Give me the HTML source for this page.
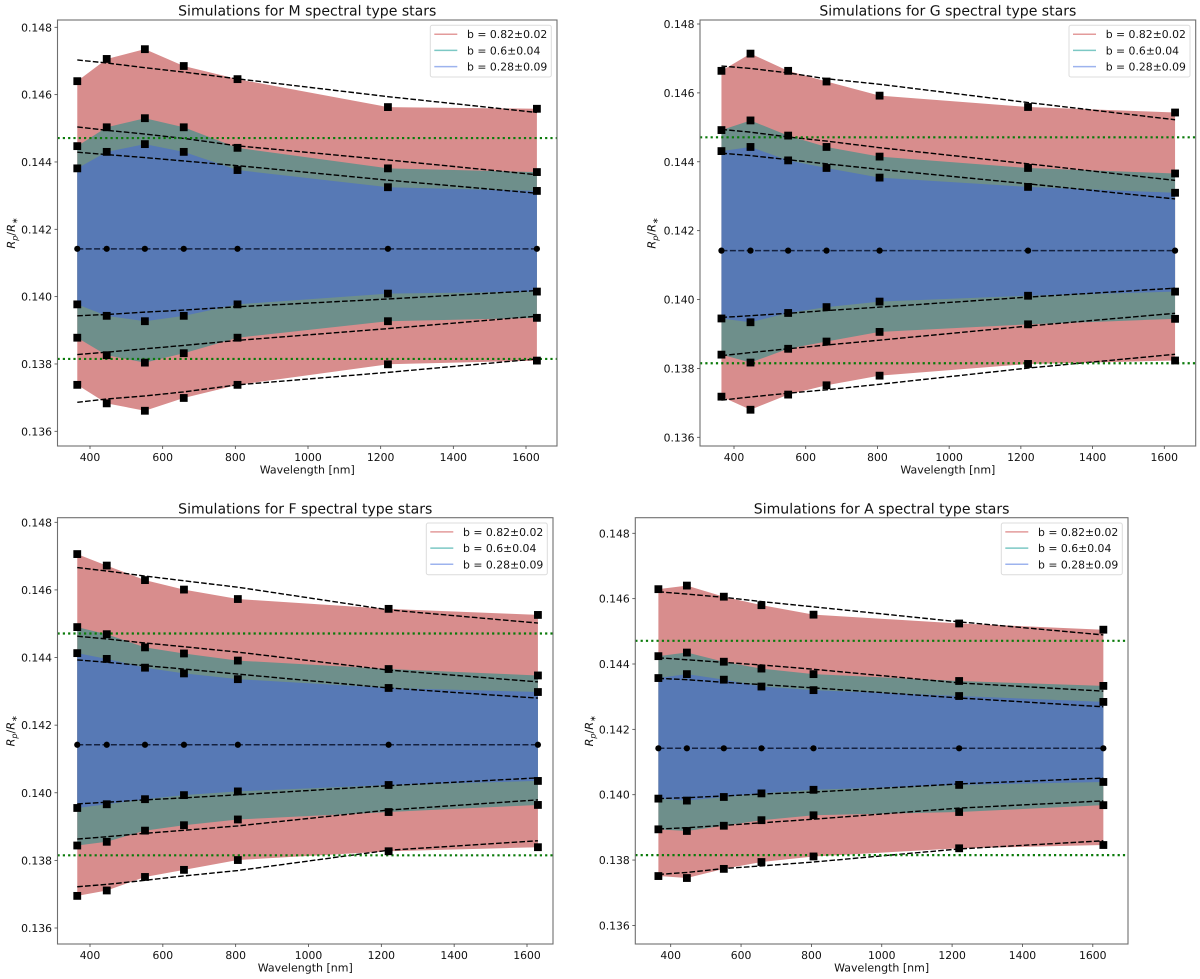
<!DOCTYPE html>
<html lang="en">
<head>
<meta charset="utf-8">
<title>Simulations for spectral type stars</title>
<style>
html,body{margin:0;padding:0;background:#fff;}
svg{display:block;filter:blur(0.3px);}
text{font-family:"DejaVu Sans","Liberation Sans",sans-serif;fill:#111;text-rendering:geometricPrecision;}
</style>
</head>
<body>
<svg id="figure" xmlns="http://www.w3.org/2000/svg" width="1200" height="979" viewBox="0 0 1200 979"></svg>
<script>
// ---- shared data ----
const wavelengths = [365, 446, 551, 658, 806, 1220, 1630];
const xTicks = [400, 600, 800, 1000, 1200, 1400, 1600];
const yTicks = [0.136, 0.138, 0.140, 0.142, 0.144, 0.146, 0.148];
const legendLabels = ['b = 0.82±0.02', 'b = 0.6±0.04', 'b = 0.28±0.09'];
const centreValue = 0.14142;
const upperLimit = 0.14471;
const lowerLimit = 0.13815;

// ---- M stars ----
const mUpper82 = [.14640,.14706,.14735,.14685,.14646,.14563,.14558];
const mUpper60 = [.14447,.14503,.14530,.14503,.14442,.14381,.14370];
const mUpper28 = [.14381,.14430,.14453,.14430,.14376,.14325,.14314];
const mLower28 = [.13977,.13943,.13927,.13943,.13977,.14009,.14015];
const mLower60 = [.13878,.13826,.13804,.13832,.13878,.13927,.13937];
const mLower82 = [.13738,.13683,.13661,.13699,.13738,.13799,.13810];
const mFitUpper82 = [.14703,.14694,.14680,.14667,.14647,.14594,.14547];
const mFitUpper60 = [.14504,.14494,.14483,.14470,.14448,.14406,.14362];
const mFitUpper28 = [.14429,.14422,.14413,.14403,.14389,.14346,.14307];
const mFitLower28 = [.13943,.13947,.13954,.13960,.13970,.13993,.14018];
const mFitLower60 = [.13828,.13835,.13845,.13855,.13870,.13905,.13942];
const mFitLower82 = [.13686,.13696,.13705,.13717,.13738,.13775,.13815];

// ---- G stars ----
const gUpper82 = [.14664,.14714,.14664,.14633,.14592,.14559,.14543];
const gUpper60 = [.14492,.14520,.14476,.14443,.14415,.14382,.14366];
const gUpper28 = [.14431,.14443,.14404,.14382,.14354,.14327,.14310];
const gLower28 = [.13945,.13934,.13961,.13978,.13994,.14011,.14023];
const gLower60 = [.13840,.13817,.13857,.13878,.13906,.13928,.13944];
const gLower82 = [.13718,.13680,.13724,.13751,.13779,.13813,.13823];
const gFitUpper82 = [.14678,.14671,.14658,.14641,.14625,.14572,.14522];
const gFitUpper60 = [.14494,.14486,.14472,.14460,.14441,.14394,.14346];
const gFitUpper28 = [.14425,.14418,.14406,.14394,.14378,.14336,.14292];
const gFitLower28 = [.13948,.13953,.13960,.13968,.13978,.14007,.14033];
const gFitLower60 = [.13837,.13846,.13857,.13868,.13882,.13923,.13960];
const gFitLower82 = [.13708,.13717,.13728,.13738,.13754,.13801,.13841];

// ---- F stars ----
const fUpper82 = [.14706,.14672,.14629,.14601,.14573,.14544,.14526];
const fUpper60 = [.14490,.14469,.14430,.14412,.14391,.14366,.14347];
const fUpper28 = [.14413,.14396,.14370,.14353,.14336,.14310,.14298];
const fLower28 = [.13955,.13966,.13981,.13993,.14004,.14023,.14035];
const fLower60 = [.13844,.13855,.13888,.13904,.13921,.13943,.13964];
const fLower82 = [.13695,.13711,.13751,.13772,.13801,.13827,.13839];
const fFitUpper82 = [.14666,.14656,.14641,.14627,.14608,.14541,.14502];
const fFitUpper60 = [.14463,.14455,.14443,.14432,.14416,.14363,.14328];
const fFitUpper28 = [.14393,.14386,.14376,.14366,.14351,.14310,.14280];
const fFitLower28 = [.13967,.13972,.13979,.13985,.13994,.14021,.14044];
const fFitLower60 = [.13863,.13870,.13880,.13889,.13902,.13949,.13979];
const fFitLower82 = [.13722,.13729,.13741,.13754,.13770,.13830,.13858];

// ---- A stars ----
const aUpper82 = [.14629,.14640,.14606,.14580,.14551,.14524,.14505];
const aUpper60 = [.14424,.14435,.14407,.14386,.14369,.14348,.14333];
const aUpper28 = [.14357,.14369,.14352,.14331,.14320,.14302,.14284];
const aLower28 = [.13988,.13982,.13993,.14004,.14015,.14030,.14039];
const aLower60 = [.13894,.13889,.13905,.13922,.13937,.13947,.13968];
const aLower82 = [.13751,.13745,.13773,.13794,.13811,.13836,.13846];
const aFitUpper82 = [.14621,.14614,.14604,.14591,.14575,.14529,.14489];
const aFitUpper60 = [.14419,.14413,.14405,.14397,.14384,.14342,.14317];
const aFitUpper28 = [.14356,.14352,.14344,.14337,.14327,.14296,.14269];
const aFitLower28 = [.13988,.13991,.13996,.14002,.14008,.14033,.14051];
const aFitLower60 = [.13895,.13899,.13906,.13914,.13925,.13959,.13981];
const aFitLower82 = [.13756,.13762,.13774,.13782,.13794,.13834,.13859];

const svg = document.getElementById('figure');
const NS = 'http://www.w3.org/2000/svg';

function add(parent, tag, name, attrs, text) {
  const el = document.createElementNS(NS, tag);
  
  
  for (const k in attrs) el.setAttribute(k, attrs[k]);
  if (text !== undefined) el.textContent = text;
  parent.appendChild(el);
  return el;
}

function linePath(xs, ys) {
  return xs.map((x, i) => (i ? 'L' : 'M') + x.toFixed(2) + ' ' + ys[i].toFixed(2)).join('');
}

function bandPath(xs, upper, lower) {
  const up = xs.map((x, i) => x.toFixed(2) + ' ' + upper[i].toFixed(2));
  const lo = xs.map((x, i) => x.toFixed(2) + ' ' + lower[i].toFixed(2)).reverse();
  return 'M' + up.join('L') + 'L' + lo.join('L') + 'Z';
}

function drawPanel(p) {
  const g = add(svg, 'g', 'panel-' + p.key, {});
  const xAxis = v => p.x400 + (v - 400) * (p.x1600 - p.x400) / 1200;
  const yAxis = v => p.y148 + (0.148 - v) * (p.y136 - p.y148) / 0.012;
  const xs = wavelengths.map(xAxis);
  const toY = arr => arr.map(yAxis);

  // filled bands
  add(g, 'path', 'band-b-0.82', {d: bandPath(xs, toY(p.up82), toY(p.lo82)), fill: '#d88d8d'});
  add(g, 'path', 'band-b-0.6', {d: bandPath(xs, toY(p.up60), toY(p.lo60)), fill: '#6e8f8b'});
  add(g, 'path', 'band-b-0.28', {d: bandPath(xs, toY(p.up28), toY(p.lo28)), fill: '#5779b5'});

  // fit lines
  [p.fitUp82, p.fitUp60, p.fitUp28, p.fitLo28, p.fitLo60, p.fitLo82].forEach(function (fit, i) {
    add(g, 'path', 'fit-line-' + i, {d: linePath(xs, toY(fit)), fill: 'none', stroke: '#000', 'stroke-width': 1.4, 'stroke-dasharray': '5.6 2.2'});
  });
  const cy = yAxis(centreValue);
  add(g, 'line', 'centre-line', {x1: xs[0], x2: xs[xs.length - 1], y1: cy, y2: cy, stroke: '#14213f', 'stroke-width': 1.5, 'stroke-dasharray': '6 2.4'});

  // limit lines
  [upperLimit, lowerLimit].forEach(function (v, i) {
    const y = yAxis(v);
    add(g, 'line', i ? 'lower-limit-line' : 'upper-limit-line', {x1: p.left, x2: p.right, y1: y, y2: y, stroke: '#0a7a0a', 'stroke-width': 2.2, 'stroke-dasharray': '2.2 3.1'});
  });

  // markers
  [p.up82, p.up60, p.up28, p.lo28, p.lo60, p.lo82].forEach(function (series, s) {
    series.forEach(function (v, i) {
      add(g, 'rect', 'marker-s' + s + '-' + wavelengths[i], {x: xs[i] - 3.9, y: yAxis(v) - 3.9, width: 7.8, height: 7.8, fill: '#000'});
    });
  });
  xs.forEach(function (x, i) {
    add(g, 'circle', 'centre-marker-' + wavelengths[i], {cx: x, cy: cy, r: 3.1, fill: '#000'});
  });

  // axes frame
  add(g, 'rect', 'axes-frame', {x: p.left, y: p.top, width: p.right - p.left, height: p.bottom - p.top, fill: 'none', stroke: '#6f6f6f', 'stroke-width': 1.1});

  // ticks
  xTicks.forEach(function (t) {
    const x = xAxis(t);
    add(g, 'line', 'x-tick-' + t, {x1: x, x2: x, y1: p.bottom, y2: p.bottom + 3, stroke: '#444', 'stroke-width': 0.8});
    add(g, 'text', 'x-tick-label-' + t, {x: x, y: p.bottom + 15, 'text-anchor': 'middle', 'font-size': 10.8}, String(t));
  });
  yTicks.forEach(function (t) {
    const y = yAxis(t);
    add(g, 'line', 'y-tick-' + t, {x1: p.left - 3, x2: p.left, y1: y, y2: y, stroke: '#444', 'stroke-width': 0.8});
    add(g, 'text', 'y-tick-label-' + t, {x: p.left - 5.5, y: y + 4, 'text-anchor': 'end', 'font-size': 10.8}, t.toFixed(3));
  });

  // title and axis labels
  const cx = (p.left + p.right) / 2;
  add(g, 'text', 'panel-title', {x: cx, y: p.top - 4.4, 'text-anchor': 'middle', 'font-size': 14.05}, p.title);
  add(g, 'text', 'x-axis-title', {x: cx, y: p.bottom + 27.5, 'text-anchor': 'middle', 'font-size': 11}, 'Wavelength [nm]');
  const midY = (p.top + p.bottom) / 2;
  const yt = add(g, 'text', 'y-axis-title', {x: 0, y: 0, 'text-anchor': 'middle', 'font-size': 11.2, transform: 'translate(' + p.yLabelX + ' ' + midY + ') rotate(-90)'});
  const parts = [['R', 'italic', 0, 11.2], ['p', 'italic', 2.5, 8], ['/', 'normal', -2.5, 11.2], ['R', 'italic', 0, 11.2], ['∗', 'normal', 2.5, 8]];
  parts.forEach(function (part) {
    const ts = add(yt, 'tspan', 'y-axis-title-part', {'font-style': part[1], dy: part[2], 'font-size': part[3]}, part[0]);
    ts.setAttribute('data-part', part[0]);
  });

  // legend
  const lx = p.right - 126.7 + (p.legendShift || 0);
  const ly = p.top + 5.3;
  const legend = add(g, 'g', 'legend', {});
  add(legend, 'rect', 'legend-frame', {x: lx, y: ly, width: 121, height: 51.7, rx: 2, fill: '#fff', 'fill-opacity': 0.85, stroke: '#dcdcdc', 'stroke-width': 1});
  const legendColors = ['#e39b9b', '#7cc8c4', '#9db3ee'];
  legendLabels.forEach(function (label, i) {
    const y = ly + 8.9 + i * 16.2;
    const entry = add(legend, 'g', 'legend-entry-' + i, {});
    add(entry, 'line', 'legend-handle-' + i, {x1: lx + 4, x2: lx + 27, y1: y, y2: y, stroke: legendColors[i], 'stroke-width': 1.5});
    add(entry, 'text', 'legend-label-' + i, {x: lx + 36.7, y: y + 4, 'font-size': 10.85}, label);
  });
}

const panelM = {key: 'm-stars', title: 'Simulations for M spectral type stars',
  left: 57.5, right: 557, top: 20, bottom: 446, x400: 90, x1600: 526, y148: 27.3, y136: 431.3, yLabelX: 15,
  up82: mUpper82, up60: mUpper60, up28: mUpper28, lo28: mLower28, lo60: mLower60, lo82: mLower82,
  fitUp82: mFitUpper82, fitUp60: mFitUpper60, fitUp28: mFitUpper28, fitLo28: mFitLower28, fitLo60: mFitLower60, fitLo82: mFitLower82};
const panelG = {key: 'g-stars', title: 'Simulations for G spectral type stars',
  left: 700, right: 1195.7, top: 20, bottom: 446, x400: 734, x1600: 1164.3, y148: 24, y136: 437.3, yLabelX: 655.5,
  up82: gUpper82, up60: gUpper60, up28: gUpper28, lo28: gLower28, lo60: gLower60, lo82: gLower82,
  fitUp82: gFitUpper82, fitUp60: gFitUpper60, fitUp28: gFitUpper28, fitLo28: gFitLower28, fitLo60: gFitLower60, fitLo82: gFitLower82};
const panelF = {key: 'f-stars', title: 'Simulations for F spectral type stars',
  left: 57.5, right: 553, top: 517.7, bottom: 944, x400: 90, x1600: 527, y148: 522.3, y136: 928, yLabelX: 14.5,
  up82: fUpper82, up60: fUpper60, up28: fUpper28, lo28: fLower28, lo60: fLower60, lo82: fLower82,
  fitUp82: fFitUpper82, fitUp60: fFitUpper60, fitUp28: fFitUpper28, fitLo28: fFitLower28, fitLo60: fFitLower60, fitLo82: fFitLower82};
const panelA = {key: 'a-stars', title: 'Simulations for A spectral type stars',
  left: 635.3, right: 1128, top: 517.7, bottom: 944, x400: 670.7, x1600: 1092.8, y148: 533.3, y136: 925.4, yLabelX: 593,
  up82: aUpper82, up60: aUpper60, up28: aUpper28, lo28: aLower28, lo60: aLower60, lo82: aLower82,
  fitUp82: aFitUpper82, fitUp60: aFitUpper60, fitUp28: aFitUpper28, fitLo28: aFitLower28, fitLo60: aFitLower60, fitLo82: aFitLower82};

[panelM, panelG, panelF, panelA].forEach(drawPanel);
</script>
</body>
</html>
